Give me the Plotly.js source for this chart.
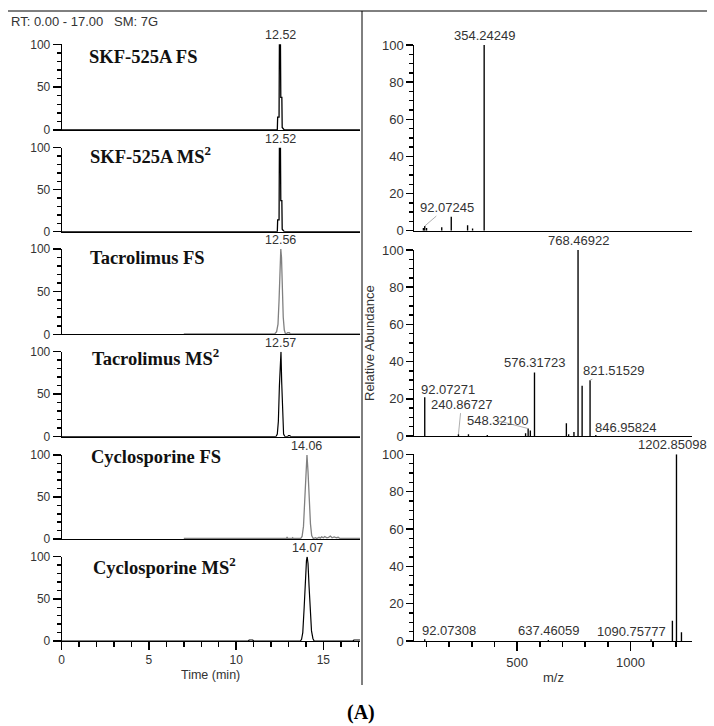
<!DOCTYPE html>
<html><head><meta charset="utf-8">
<script src="https://cdn.plot.ly/plotly-3.0.1.min.js"></script>
<style>html,body{margin:0;padding:0;background:#fff}#chart{width:714px;height:726px}</style>
</head><body><div id="chart"></div>
<script>
// ---------------- Chromatogram data (time in min, relative abundance %) ----------------
const skfFsTime  = [0, 12.36, 12.38, 12.46, 12.48, 12.54, 12.56, 12.62, 12.64, 12.70, 12.76, 17.1];
const skfFsInt   = [0, 0, 15, 15, 100, 100, 38, 38, 3, 2, 0, 0];
const skfMs2Time = [0, 12.36, 12.38, 12.46, 12.48, 12.54, 12.56, 12.62, 12.64, 12.70, 12.76, 17.1];
const skfMs2Int  = [0, 0, 14, 14, 100, 100, 37, 37, 3, 1, 0, 0];
const tacFsTime  = [7.0, 12.22, 12.32, 12.40, 12.46, 12.52, 12.56, 12.60, 12.65, 12.70, 12.76, 12.82, 12.88, 12.95, 13.05, 13.10, 17.1];
const tacFsInt   = [0.6, 0.6, 3, 12, 40, 85, 100, 90, 50, 20, 5, 1, 0.6, 1.8, 1.8, 0.6, 0.6];
const tacMs2Time = [0, 12.28, 12.36, 12.42, 12.48, 12.53, 12.57, 12.61, 12.66, 12.72, 12.80, 12.95, 13.0, 13.08, 13.12, 17.1];
const tacMs2Int  = [0, 0, 3, 18, 60, 95, 100, 65, 20, 3, 0, 0, 1.2, 1.2, 0, 0];
const cycFsTime  = [7.0, 12.88, 12.92, 12.96, 13.20, 13.24, 13.28, 13.70, 13.78, 13.86, 13.93, 14.00, 14.06, 14.12, 14.19, 14.26, 14.33, 14.42, 14.55, 14.62, 14.75, 14.82, 14.90, 15.00, 15.08, 15.20, 15.30, 15.40, 15.50, 15.62, 15.75, 15.85, 15.95, 17.1];
const cycFsInt   = [0.6, 0.6, 2.5, 0.6, 0.6, 1.5, 0.6, 0.6, 3, 15, 45, 85, 100, 80, 45, 18, 4, 0.6, 1.5, 0.6, 2, 1, 2.5, 1.5, 3, 1.5, 2, 3.5, 1.5, 2.5, 1.5, 2, 0.6, 0.6];
const cycMs2Time = [0, 10.70, 10.75, 10.95, 11.0, 13.68, 13.75, 13.82, 13.90, 13.97, 14.03, 14.07, 14.12, 14.18, 14.25, 14.32, 14.40, 14.47, 16.70, 16.75, 17.0, 17.1];
const cycMs2Int  = [0, 0, 1.2, 1.2, 0, 0, 2, 10, 40, 75, 95, 100, 92, 65, 35, 12, 3, 0, 0, 1.2, 1.2, 1.2];
const chromTitles = ['SKF-525A FS', 'SKF-525A MS<sup>2</sup>', 'Tacrolimus FS', 'Tacrolimus MS<sup>2</sup>', 'Cyclosporine FS', 'Cyclosporine MS<sup>2</sup>'];
const chromPeakRT = [12.52, 12.52, 12.56, 12.57, 14.06, 14.07];

// ---------------- Mass spectra data (m/z, relative abundance %) ----------------
const skfMz = [86.10, 92.07245, 100.11, 167.09, 209.10, 281.15, 303.10, 354.24249];
const skfAb = [1.5, 2.5, 1.5, 1.8, 7.5, 3.0, 1.2, 100];
const tacMz = [92.07271, 240.86727, 285.0, 368.0, 537.0, 548.32100, 558.0, 576.31723, 717.0, 727.0, 750.45, 768.46922, 786.48, 821.51529, 846.95824];
const tacAb = [20.8, 1.0, 1.0, 0.6, 1.5, 4.0, 3.0, 34.2, 6.8, 1.0, 2.2, 100, 27, 30, 0.6];
const cycMz = [92.07308, 637.46059, 1090.75777, 1184.84, 1202.85098, 1224.83];
const cycAb = [1.0, 0.5, 1.0, 10.9, 100, 4.7];
const skfLabelMz = [354.24249, 92.07245];
const tacLabelMz = [768.46922, 576.31723, 821.51529, 92.07271, 240.86727, 548.32100, 846.95824];
const cycLabelMz = [1202.85098, 92.07308, 637.46059, 1090.75777];

// ---------------- Tick values / labels ----------------
const chromYTickVals = [0, 10, 20, 30, 40, 50, 60, 70, 80, 90, 100];
const chromYTickText = ['0', '', '', '', '', '50', '', '', '', '', '100'];
const chromYMajor    = [0, 50, 100];
const timeTickVals   = [0, 1, 2, 3, 4, 5, 6, 7, 8, 9, 10, 11, 12, 13, 14, 15, 16, 17];
const timeTickText   = ['0', '', '', '', '', '5', '', '', '', '', '10', '', '', '', '', '15', '', ''];
const timeMajor      = [0, 5, 10, 15];
const specYTickVals  = [0, 5, 10, 15, 20, 25, 30, 35, 40, 45, 50, 55, 60, 65, 70, 75, 80, 85, 90, 95, 100];
const specYTickText  = ['0', '', '', '', '20', '', '', '', '40', '', '', '', '60', '', '', '', '80', '', '', '', '100'];
const specYMajor     = [0, 20, 40, 60, 80, 100];
const mzTickVals     = [100, 200, 300, 400, 500, 600, 700, 800, 900, 1000, 1100, 1200];
const mzTickText     = ['', '', '', '', '500', '', '', '', '', '1000', '', ''];
const mzMajor        = [500, 1000];

// ---------------- Geometry / style ----------------
const W = 714, H = 726;
const PX = x => x / W, PY = y => 1 - y / H;
const SANS = 'Liberation Sans, Arial, sans-serif';
const SERIF = 'Liberation Serif, Times New Roman, serif';
const TW = 1.5;   // tick width
const leftYpx = [[44.3,130],[147.7,231.7],[249,334.3],[351.7,436.7],[455,539],[556.7,641]];
const rightYpx = [[45,230.7],[250,436],[454.3,641]];
const titlePos = [[87,56.7],[88,155],[88.3,258.3],[90,357],[88.7,457.3],[90.7,566]];

const chromSeries = [
  [skfFsTime, skfFsInt, '#000', 1.3],
  [skfMs2Time, skfMs2Int, '#000', 1.3],
  [tacFsTime, tacFsInt, '#808080', 1.3],
  [tacMs2Time, tacMs2Int, '#000', 1.2],
  [cycFsTime, cycFsInt, '#808080', 1.3],
  [cycMs2Time, cycMs2Int, '#000', 1.2]
];
const specSeries = [[skfMz, skfAb, skfLabelMz],[tacMz, tacAb, tacLabelMz],[cycMz, cycAb, cycLabelMz]];
// label placement: [ax, ay] pixel offsets (null = centred above the peak)
const labelOffsets = {
  '354.24249': null, '92.07245': [22,-19],
  '768.46922': null, '576.31723': null, '821.51529': [23,-10], '92.07271': [23,-8],
  '240.86727': [3,-30], '548.32100': [-31,-8], '846.95824': [30,-7],
  '1202.85098': null, '92.07308': [24,-9], '637.46059': null, '1090.75777': [-20,-8]
};

const data = [];
const layout = {
  width: W, height: H, margin: {l:0, r:0, t:0, b:0}, autosize: false, showlegend: false,
  paper_bgcolor: '#fff', plot_bgcolor: 'rgba(0,0,0,0)',
  font: {family: SANS, size: 12, color: '#333'},
  shapes: [], annotations: []
};
const ax = (kind, n) => kind + (n === 1 ? '' : n);
let extra = 10;  // counter for overlay axes carrying the longer major ticks

function ghost(xa, ya, x, y) {
  data.push({type:'scatter', mode:'markers', x:[x], y:[y], marker:{size:1, opacity:0, color:'#fff'},
    xaxis: xa, yaxis: ya, hoverinfo:'skip', showlegend:false});
}
function majorY(n, range, vals, len, xmid) {
  const m = extra++;
  layout[ax('yaxis', m)] = {overlaying: ax('y', n), anchor: ax('x', n), side:'left', range: range,
    tickmode:'array', tickvals: vals, ticks:'outside', ticklen:len, tickcolor:'#000', tickwidth:TW,
    showticklabels:false, showline:false, showgrid:false, zeroline:false, fixedrange:true};
  ghost(ax('x', n), ax('y', m), xmid, 50);
}
function majorX(n, range, vals, len) {
  const m = extra++;
  layout[ax('xaxis', m)] = {overlaying: ax('x', n), anchor: ax('y', n), side:'bottom', range: range,
    tickmode:'array', tickvals: vals, ticks:'outside', ticklen:len, tickcolor:'#000', tickwidth:TW,
    showticklabels:false, showline:false, showgrid:false, zeroline:false, fixedrange:true};
  ghost(ax('x', m), ax('y', n), (range[0] + range[1]) / 2, 50);
}

// Left chromatograms
chromSeries.forEach((s, i) => {
  const n = i + 1, bottom = (i === 5);
  const [t, y, color, lw] = s;
  data.push({type:'scatter', mode:'lines', x:t, y:y, line:{color:color, width:lw},
    xaxis: ax('x', n), yaxis: ax('y', n), hoverinfo:'skip', cliponaxis:false});
  layout[ax('xaxis', n)] = {
    domain:[PX(61.7), PX(360)], range:[0, 17.1], anchor: ax('y', n),
    showline:true, linecolor:'#000', linewidth:1, showgrid:false, zeroline:false,
    ticks: bottom ? 'outside' : '', showticklabels: bottom,
    tickmode:'array', tickvals: timeTickVals, ticktext: timeTickText,
    ticklen:5, tickcolor:'#000', tickwidth:TW, ticklabelstandoff: 3,
    tickfont:{size:12, color:'#333', family:SANS}, fixedrange:true
  };
  layout[ax('yaxis', n)] = {
    domain:[PY(leftYpx[i][1]), PY(leftYpx[i][0])], range:[0, 100], anchor: ax('x', n),
    showline:true, linecolor:'#000', linewidth:1, showgrid:false, zeroline:false,
    ticks:'outside', tickmode:'array', tickvals: chromYTickVals, ticktext: chromYTickText,
    ticklen:4, tickcolor:'#000', tickwidth:TW, ticklabelstandoff: 4,
    tickfont:{size:12, color:'#333', family:SANS}, fixedrange:true
  };
  majorY(n, [0, 100], chromYMajor, 8, 8.5);
  if (bottom) majorX(n, [0, 17.1], timeMajor, 8);
  layout.annotations.push({xref:ax('x', n), yref:ax('y', n), x:chromPeakRT[i], y:100,
    text: chromPeakRT[i].toFixed(2), showarrow:false, yanchor:'bottom', xanchor:'center',
    font:{size:12.5, color:'#333', family:SANS}});
  layout.annotations.push({xref:'paper', yref:'paper', x:PX(titlePos[i][0]), y:PY(titlePos[i][1]),
    xanchor:'left', yanchor:'middle', showarrow:false, text:'<b>' + chromTitles[i] + '</b>',
    font:{family:SERIF, size:18.5, color:'#111'}});
});

// Right spectra
specSeries.forEach((s, j) => {
  const n = 7 + j, bottom = (j === 2);
  const [mz, ab, labels] = s;
  data.push({type:'bar', x:mz, y:ab, width:6, marker:{color:'#000', line:{width:0}},
    xaxis: ax('x', n), yaxis: ax('y', n), hoverinfo:'skip', cliponaxis:false});
  layout[ax('xaxis', n)] = {
    domain:[PX(414.3), PX(691.7)], range:[46, 1270], anchor: ax('y', n),
    showline:true, linecolor:'#000', linewidth:1, showgrid:false, zeroline:false,
    ticks: bottom ? 'outside' : '', showticklabels: bottom,
    tickmode:'array', tickvals: mzTickVals, ticktext: mzTickText,
    ticklen:5, tickcolor:'#000', tickwidth:TW, ticklabelstandoff: 4,
    tickfont:{size:13, color:'#333', family:SANS}, fixedrange:true
  };
  layout[ax('yaxis', n)] = {
    domain:[PY(rightYpx[j][1]), PY(rightYpx[j][0])], range:[0, 100], anchor: ax('x', n),
    showline:true, linecolor:'#000', linewidth:1, showgrid:false, zeroline:false,
    ticks:'outside', tickmode:'array', tickvals: specYTickVals, ticktext: specYTickText,
    ticklen:4, tickcolor:'#000', tickwidth:TW, ticklabelstandoff: 3,
    tickfont:{size:13, color:'#333', family:SANS}, fixedrange:true
  };
  majorY(n, [0, 100], specYMajor, 7, 650);
  if (bottom) majorX(n, [46, 1270], mzMajor, 9);
  labels.forEach(m => {
    const k = mz.findIndex(v => Math.abs(v - m) < 0.001);
    const txt = m.toFixed(5);
    const off = labelOffsets[txt];
    const a = {xref:ax('x', n), yref:ax('y', n), x:mz[k], y:ab[k], text:txt,
      font:{size:13, color:'#333', family:SANS}};
    if (off) {
      Object.assign(a, {showarrow:true, arrowhead:0, arrowwidth:0.8, arrowcolor:'#999',
        ax:off[0], ay:off[1], standoff:0});
    } else {
      Object.assign(a, {showarrow:false, yanchor:'bottom', xanchor:'center',
        xshift: txt === '1202.85098' ? -4 : 0});
    }
    layout.annotations.push(a);
  });
});

// Frame lines
layout.shapes.push({type:'line', xref:'paper', yref:'paper', x0:PX(8), x1:PX(707), y0:PY(11), y1:PY(11), line:{color:'#000', width:1}});
layout.shapes.push({type:'line', xref:'paper', yref:'paper', x0:PX(362), x1:PX(362), y0:PY(11), y1:PY(685), line:{color:'#000', width:1}});

// Free texts
layout.annotations.push(
  {xref:'paper', yref:'paper', x:PX(9), y:PY(21.7), xanchor:'left', yanchor:'middle', showarrow:false,
   text:'RT: 0.00 - 17.00\u00a0\u00a0\u00a0SM: 7G', font:{size:13, color:'#333', family:SANS}},
  {xref:'paper', yref:'paper', x:PX(210.8), y:PY(675), xanchor:'center', yanchor:'middle', showarrow:false,
   text:'Time (min)', font:{size:12.5, color:'#333', family:SANS}},
  {xref:'paper', yref:'paper', x:PX(553), y:PY(677), xanchor:'center', yanchor:'middle', showarrow:false,
   text:'m/z', font:{size:13, color:'#333', family:SANS}},
  {xref:'paper', yref:'paper', x:PX(370), y:PY(343), xanchor:'center', yanchor:'middle', showarrow:false,
   textangle:-90, text:'Relative Abundance', font:{size:13, color:'#333', family:SANS}},
  {xref:'paper', yref:'paper', x:PX(361), y:PY(712), xanchor:'center', yanchor:'middle', showarrow:false,
   text:'<b>(A)</b>', font:{size:20, color:'#000', family:SERIF}}
);

Plotly.newPlot('chart', data, layout, {displayModeBar:false, staticPlot:true});
</script></body></html>
